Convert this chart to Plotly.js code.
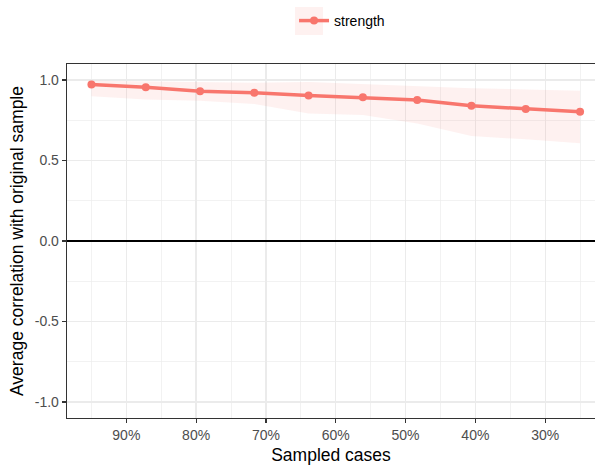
<!DOCTYPE html>
<html>
<head>
<meta charset="utf-8">
<script src="https://cdn.plot.ly/plotly-3.0.1.min.js"></script>
<style>html,body{margin:0;padding:0;background:#fff;}#chart{width:595px;height:465px;}</style>
</head>
<body>
<div id="chart"></div>
<script>
// Proportion of sampled cases
const sampled = [0.95, 0.8722, 0.7944, 0.7167, 0.6389, 0.5611, 0.4833, 0.4056, 0.3278, 0.25];
// Average correlation with original sample (strength)
const strengthMean = [0.973, 0.955, 0.930, 0.921, 0.905, 0.893, 0.876, 0.840, 0.820, 0.803];
const strengthUpper = [0.996, 0.992, 0.985, 0.983, 0.988, 0.975, 0.963, 0.950, 0.942, 0.933];
const strengthLower = [0.900, 0.880, 0.871, 0.851, 0.793, 0.783, 0.731, 0.652, 0.632, 0.607];
const seriesName = "strength";
const xTickVals = [0.9, 0.8, 0.7, 0.6, 0.5, 0.4, 0.3];
const xTickText = ["90%", "80%", "70%", "60%", "50%", "40%", "30%"];
const yTickVals = [-1, -0.5, 0, 0.5, 1];
const yTickText = ["-1.0", "-0.5", "0.0", "0.5", "1.0"];

const col = "#F8766D";
const fillCol = "rgba(248,118,109,0.1)";
const font = "Liberation Sans, Arial, sans-serif";

const ribbon = {
  x: sampled.concat(sampled.slice().reverse()),
  y: strengthUpper.concat(strengthLower.slice().reverse()),
  type: "scatter", mode: "lines", fill: "toself",
  fillcolor: fillCol, line: {width: 0, color: fillCol},
  showlegend: false, hoverinfo: "skip"
};
const line = {
  x: sampled, y: strengthMean, type: "scatter", mode: "lines+markers",
  name: seriesName, line: {color: col, width: 3.5}, marker: {color: col, size: 8}
};

const layout = {
  width: 595, height: 465,
  margin: {l: 67, r: 0, t: 64, b: 47},
  paper_bgcolor: "#fff", plot_bgcolor: "#fff",
  font: {family: font, color: "#4D4D4D", size: 14},
  showlegend: true,
  legend: {orientation: "h", x: 0.43, xanchor: "left", y: 1.1215, yanchor: "middle",
           font: {size: 14, color: "#000"}, bgcolor: "rgba(0,0,0,0)", itemwidth: 30},
  xaxis: {
    range: [0.985, 0.2286], tickvals: xTickVals, ticktext: xTickText,
    showgrid: true, gridcolor: "#EBEBEB", gridwidth: 1.3,
    minor: {dtick: 0.05, tick0: 0, showgrid: true, gridcolor: "#EBEBEB", gridwidth: 0.65, ticks: ""},
    showline: true, mirror: true, linecolor: "#333333", linewidth: 1.3,
    ticks: "outside", ticklen: 4, tickcolor: "#333333", tickwidth: 1.2,
    tickfont: {size: 14, color: "#4D4D4D"}, zeroline: false,
    title: {text: "Sampled cases", font: {size: 17.5, color: "#000"}, standoff: 8}
  },
  yaxis: {
    range: [-1.1, 1.1], tickvals: yTickVals, ticktext: yTickText,
    showgrid: true, gridcolor: "#EBEBEB", gridwidth: 1.3,
    minor: {dtick: 0.25, tick0: 0, showgrid: true, gridcolor: "#EBEBEB", gridwidth: 0.65, ticks: ""},
    showline: true, mirror: false, linecolor: "#333333", linewidth: 1.3,
    ticks: "outside", ticklen: 4, tickcolor: "#333333", tickwidth: 1.2,
    tickfont: {size: 14, color: "#4D4D4D"},
    zeroline: true, zerolinecolor: "#000", zerolinewidth: 1.6,
    title: {text: "Average correlation with original sample", font: {size: 17.5, color: "#000"}, standoff: 6}
  },
  shapes: [{type: "rect", xref: "paper", yref: "paper", x0: 0.4318, x1: 0.4848, y0: 1.082, y1: 1.161,
            fillcolor: fillCol, line: {width: 0}, layer: "below"}]
};

Plotly.newPlot("chart", [ribbon, line], layout, {displayModeBar: false, staticPlot: true});
</script>
</body>
</html>
